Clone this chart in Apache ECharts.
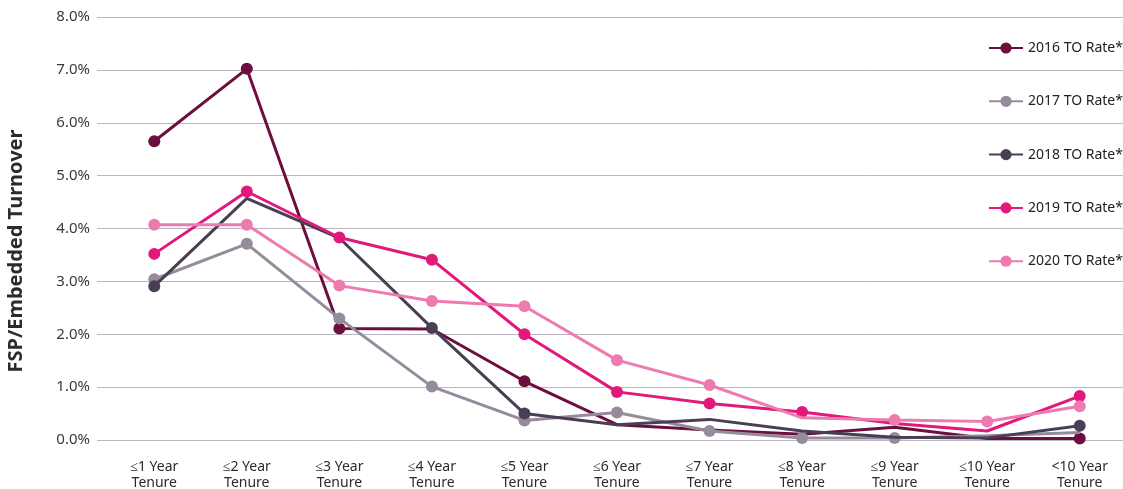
<!DOCTYPE html>
<html>
<head>
<meta charset="utf-8">
<script src="https://cdn.jsdelivr.net/npm/echarts@6/dist/echarts.min.js"></script>
<style>
html,body{margin:0;padding:0;background:#fff;}
#chart{width:1123px;height:489px;}
</style>
</head>
<body>
<div id="chart"></div>
<script>
// ---- data ----
var categories = ['≤1 Year\nTenure','≤2 Year\nTenure','≤3 Year\nTenure','≤4 Year\nTenure','≤5 Year\nTenure','≤6 Year\nTenure','≤7 Year\nTenure','≤8 Year\nTenure','≤9 Year\nTenure','≤10 Year\nTenure','<10 Year\nTenure'];
var seriesNames = ['2016 TO Rate*','2017 TO Rate*','2018 TO Rate*','2019 TO Rate*','2020 TO Rate*'];
var rate2016 = [5.65, 7.02, 2.11, 2.10, 1.11, 0.29, 0.19, 0.11, 0.24, 0.03, 0.03];
var rate2017 = [3.04, 3.71, 2.30, 1.01, 0.37, 0.52, 0.17, 0.04, 0.04, 0.08, 0.14];
var rate2018 = [2.91, 4.57, 3.82, 2.12, 0.50, 0.29, 0.39, 0.17, 0.05, 0.04, 0.27];
var rate2019 = [3.52, 4.70, 3.83, 3.41, 2.00, 0.91, 0.69, 0.53, 0.31, 0.17, 0.83];
var rate2020 = [4.07, 4.07, 2.92, 2.63, 2.53, 1.51, 1.04, 0.42, 0.38, 0.35, 0.64];
var yTicks = [0, 1, 2, 3, 4, 5, 6, 7, 8];
var yTitle = 'FSP/Embedded Turnover';

// ---- styles ----
var colors = ['#6d0f3e', '#968b9c', '#4a3e54', '#e2197a', '#ee7bb0'];
var markerAt = [
  [0,1,2,4,10],
  [0,1,2,3,4,5,6,7,8],
  [0,3,4,10],
  [0,1,2,3,4,5,6,7,10],
  [0,1,2,3,4,5,6,8,9,10]
];
var allData = [rate2016, rate2017, rate2018, rate2019, rate2020];
var FONT = 'Noto Sans';

var series = allData.map(function (vals, si) {
  return {
    name: seriesNames[si],
    type: 'line',
    xAxisIndex: 1,
    yAxisIndex: 1,
    showAllSymbol: true,
    symbol: 'circle',
    symbolSize: 12,
    z: 3 + si,
    lineStyle: { width: 3, color: colors[si] },
    itemStyle: { color: colors[si] },
    emphasis: { disabled: true },
    data: vals.map(function (v, i) {
      return markerAt[si].indexOf(i) >= 0 ? { value: v } : { value: v, symbol: 'none' };
    })
  };
});

var chart = echarts.init(document.getElementById('chart'));
chart.setOption({
  animation: false,
  color: colors,
  textStyle: { fontFamily: FONT },
  grid: [
    { left: 97, right: 0, top: 17, bottom: 49, outerBoundsMode: 'none', containLabel: false },
    { left: 108, width: 1018, top: 17, bottom: 49, outerBoundsMode: 'none', containLabel: false }
  ],
  xAxis: [
    { type: 'category', gridIndex: 0, data: categories, show: false },
    {
      type: 'category', gridIndex: 1, data: categories, boundaryGap: true,
      axisLine: { show: false }, axisTick: { show: false },
      axisLabel: { interval: 0, margin: 19, fontSize: 14, lineHeight: 16, color: '#2b2b2b', fontFamily: FONT }
    }
  ],
  yAxis: [
    {
      type: 'value', gridIndex: 0, min: yTicks[0], max: yTicks[yTicks.length - 1], interval: 1,
      axisLine: { show: false }, axisTick: { show: false },
      splitLine: { lineStyle: { color: '#bdb4c1', width: 1 } },
      axisLabel: { margin: 7, fontSize: 15, color: '#3a3a3a', fontFamily: FONT,
        formatter: function (v) { return v.toFixed(1) + '%'; } }
    },
    {
      type: 'value', gridIndex: 1, min: yTicks[0], max: yTicks[yTicks.length - 1], interval: 1,
      show: false, splitLine: { show: false }
    }
  ],
  legend: {
    orient: 'vertical', left: 983, top: 36,
    itemWidth: 34, itemHeight: 14, itemGap: 39.3,
    textStyle: { fontSize: 14, color: '#222', fontFamily: FONT },
    data: seriesNames
  },
  graphic: [{
    type: 'text', x: 16, y: 251,
    rotation: Math.PI / 2,
    style: { text: yTitle, font: 'bold 20px "' + FONT + '"', fill: '#2b2b2b', align: 'center', verticalAlign: 'middle' }
  }],
  series: series
});
</script>
</body>
</html>
